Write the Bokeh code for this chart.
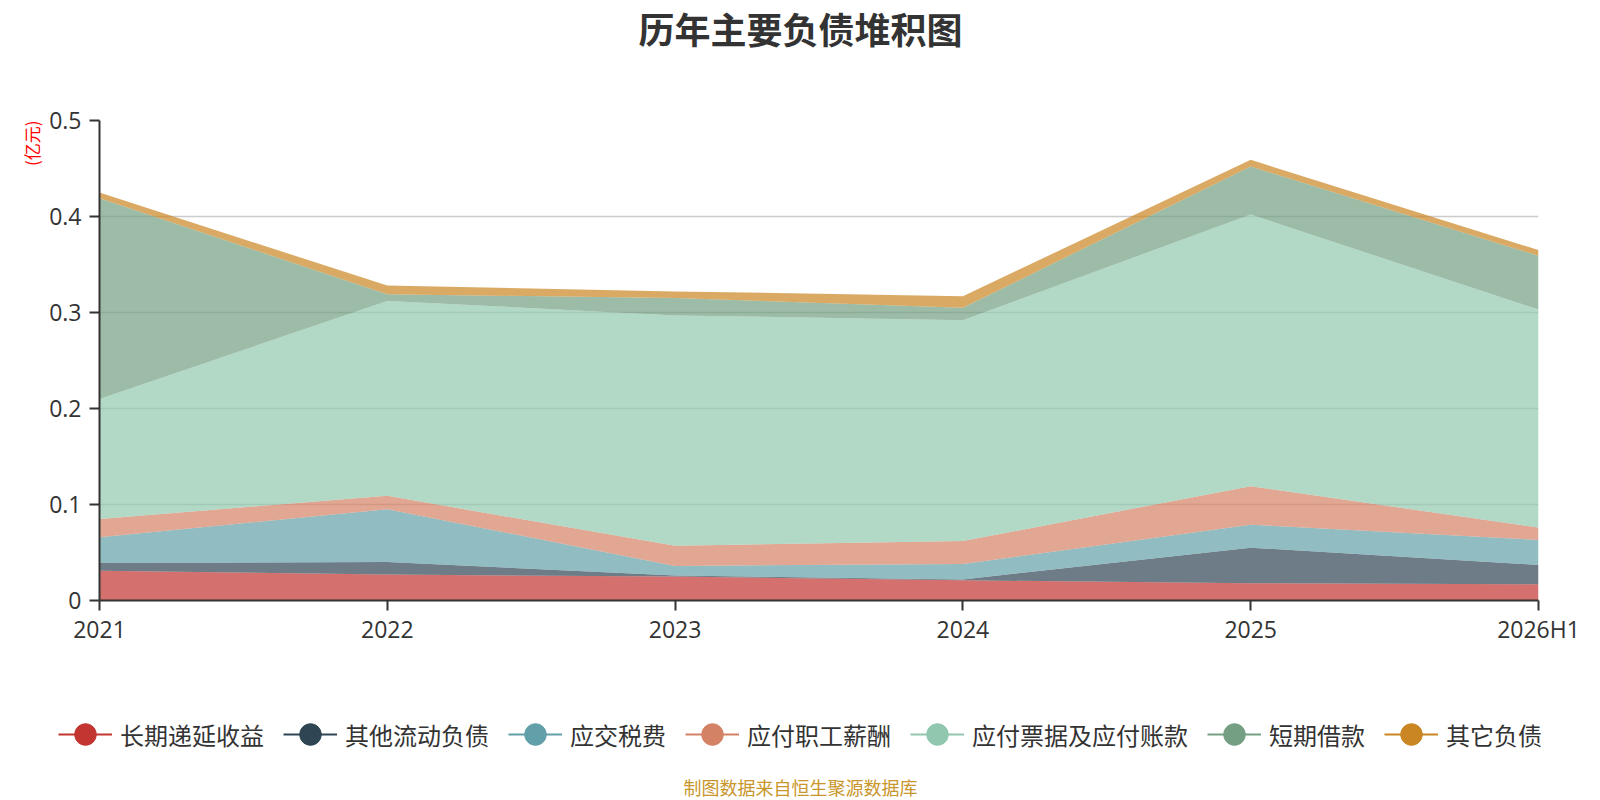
from bokeh.plotting import figure
from bokeh.layouts import column, row
from bokeh.models import (FixedTicker, CustomJSTickFormatter, Legend, LegendItem, Title, Label)
from bokeh.embed import file_html
from bokeh.resources import INLINE

categories = ["2021", "2022", "2023", "2024", "2025", "2026H1"]
# 亿元
series_names = ["长期递延收益", "其他流动负债", "应交税费", "应付职工薪酬",
                "应付票据及应付账款", "短期借款", "其它负债"]
long_deferred = [0.031, 0.027, 0.025, 0.021, 0.018, 0.017]
other_current = [0.008, 0.013, 0.001, 0.001, 0.037, 0.020]
tax_payable   = [0.027, 0.055, 0.010, 0.016, 0.024, 0.026]
salary_payable = [0.019, 0.014, 0.021, 0.024, 0.040, 0.013]
notes_accounts = [0.125, 0.203, 0.240, 0.230, 0.283, 0.227]
short_loans   = [0.209, 0.007, 0.018, 0.013, 0.050, 0.056]
other_liab    = [0.006, 0.009, 0.007, 0.012, 0.007, 0.006]
y_ticks = [0, 0.1, 0.2, 0.3, 0.4, 0.5]

series = [long_deferred, other_current, tax_payable, salary_payable,
          notes_accounts, short_loans, other_liab]
colors = ["#c23531", "#2f4554", "#61a0a8", "#d48265", "#91c7ae", "#749f83", "#ca8622"]

FONT = "Noto Sans CJK SC"
NUM_FONT = "Open Sans"
W = 1600
H0, H1, H2 = 90, 578, 132


def blank_fig(h, y0, y1):
    f = figure(width=W, height=h, x_range=(0, W), y_range=(y1, y0),
               x_axis_type=None, y_axis_type=None, output_backend="svg",
               toolbar_location=None, min_border=0)
    f.outline_line_color = None
    f.grid.visible = False
    return f


# ---- header with title ----
p0 = blank_fig(H0, 0, H0)
p0.add_layout(Label(x=800, y=1, text="历年主要负债堆积图", text_font=FONT,
                    text_font_size="36px", text_font_style="bold", text_color="#333333",
                    text_align="center", text_baseline="top"))

# ---- main chart ----
xs = list(range(len(categories)))
p = figure(width=W, height=H1, x_range=(0, len(categories) - 1), y_range=(0, 0.5),
           output_backend="svg", toolbar_location=None,
           min_border_left=99, min_border_right=62, min_border_top=30, min_border_bottom=68)
p.outline_line_color = None

bottom = [0.0] * len(categories)
for vals, col in zip(series, colors):
    top = [b + v for b, v in zip(bottom, vals)]
    p.varea(x=xs, y1=bottom, y2=top, fill_color=col, fill_alpha=0.7)
    bottom = top

p.xaxis.ticker = FixedTicker(ticks=xs)
p.xaxis.major_label_overrides = {i: c for i, c in enumerate(categories)}
p.yaxis.ticker = FixedTicker(ticks=y_ticks)
p.yaxis.formatter = CustomJSTickFormatter(code="return tick == 0 ? '0' : tick.toFixed(1);")
for ax in (p.xaxis, p.yaxis):
    ax.major_label_text_font = NUM_FONT
    ax.major_label_text_font_size = "23px"
    ax.major_label_text_color = "#333333"
    ax.axis_line_color = "#333333"
    ax.axis_line_width = 2
    ax.major_tick_line_color = "#333333"
    ax.major_tick_line_width = 2
    ax.major_tick_out = 10
    ax.major_tick_in = 0
    ax.minor_tick_line_color = None
p.xaxis.major_label_standoff = 2
p.yaxis.major_label_standoff = 8

p.xgrid.grid_line_color = None
p.ygrid.grid_line_color = "#cccccc"
p.ygrid.grid_line_width = 1.5

p.add_layout(Title(text="(亿元)", text_font=FONT, text_font_size="17px",
                   text_font_style="normal", text_color="red",
                   align="right", standoff=6), "left")

# ---- legend + footer ----
p2 = blank_fig(H2, H0 + H1, H0 + H1 + H2)
nan = float("nan")
items = []
for name, col in zip(series_names, colors):
    lr = p2.line(x=[nan], y=[nan], line_color=col, line_width=2)
    sr = p2.scatter(x=[nan], y=[nan], marker="circle", fill_color=col, line_color=col, size=22)
    items.append(LegendItem(label=name, renderers=[lr, sr]))
legend = Legend(items=items, orientation="horizontal", location="center",
                glyph_width=54, glyph_height=55, label_standoff=8, spacing=19,
                padding=0, margin=0, border_line_color=None, background_fill_alpha=0,
                label_text_font=FONT, label_text_font_size="24px",
                label_text_color="#333333")
p2.add_layout(legend, "center")
p2.add_layout(Label(x=800, y=786, text="制图数据来自恒生聚源数据库", text_font=FONT,
                    text_font_size="18px", text_color="#c9962b",
                    text_align="center", text_baseline="middle"))

layout = column(row(p0), p, row(p2), spacing=0)
open("out.html", "w").write(file_html(layout, INLINE))
